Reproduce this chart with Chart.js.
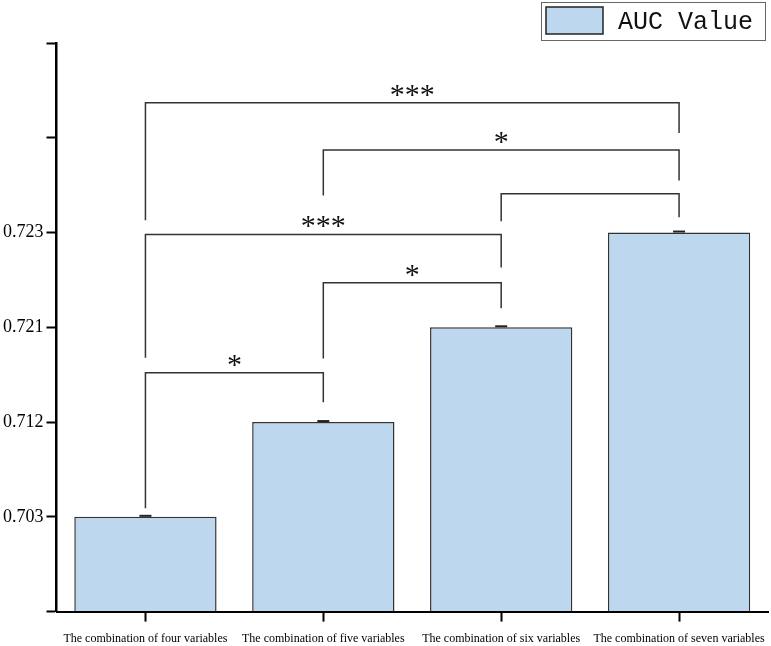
<!DOCTYPE html>
<html>
<head>
<meta charset="utf-8">
<script src="https://cdn.jsdelivr.net/npm/chart.js@4/dist/chart.umd.min.js"></script>
<style>
  html, body { margin: 0; padding: 0; background: #fff; }
  #wrap { width: 771px; height: 646px; }
</style>
</head>
<body>
<div id="wrap"><canvas id="chart" width="771" height="646"></canvas></div>
<script>
// Data
const categories = [
  "The combination of four variables",
  "The combination of five variables",
  "The combination of six variables",
  "The combination of seven variables",
]
const aucValues = [0.703, 0.712, 0.721, 0.723]
// The y axis is evenly spaced: each labelled tick is one of the AUC values
const yTickLabels = ["0.703", "0.712", "0.721", "0.723", "", ""]
const barLevels = aucValues.map((v) => yTickLabels.indexOf(v.toFixed(3)) + 1)

// Significance brackets: category indices, star label, and heights in axis units
const brackets = [
  { from: 0, to: 3, label: "***", top: 5.37, left: 4.13, right: 5.05 },
  { from: 1, to: 3, label: "*", top: 4.87, left: 4.39, right: 4.55 },
  { from: 2, to: 3, label: "", top: 4.41, left: 4.12, right: 4.16 },
  { from: 0, to: 2, label: "***", top: 3.98, left: 2.68, right: 3.63 },
  { from: 1, to: 2, label: "*", top: 3.47, left: 2.67, right: 3.2 },
  { from: 0, to: 1, label: "*", top: 2.52, left: 1.09, right: 2.21 },
]

const BAR_FILL = "#BDD7EE"
const BAR_EDGE = "#333"

const annotations = {
  id: "annotations",
  afterDatasetsDraw(chart) {
    const { ctx, scales } = chart
    const x = scales.x
    const y = scales.y
    ctx.save()

    // error bar caps (SD is negligible)
    chart.getDatasetMeta(0).data.forEach((bar) => {
      ctx.strokeStyle = "#222"
      ctx.lineWidth = 2
      ctx.beginPath()
      ctx.moveTo(bar.x - 6, bar.y - 1)
      ctx.lineTo(bar.x + 6, bar.y - 1)
      ctx.stroke()
    })

    // brackets
    ctx.strokeStyle = "#333"
    ctx.lineWidth = 1.5
    ctx.fillStyle = "#111"
    ctx.font = "30px 'Liberation Serif', serif"
    ctx.textAlign = "center"
    ctx.textBaseline = "alphabetic"
    brackets.forEach((b) => {
      const x1 = x.getPixelForValue(b.from)
      const x2 = x.getPixelForValue(b.to)
      const yt = y.getPixelForValue(b.top)
      ctx.beginPath()
      ctx.moveTo(x1, y.getPixelForValue(b.left))
      ctx.lineTo(x1, yt)
      ctx.lineTo(x2, yt)
      ctx.lineTo(x2, y.getPixelForValue(b.right))
      ctx.stroke()
      if (b.label) ctx.fillText(b.label, (x1 + x2) / 2, yt + 1)
    })

    // legend box in the top right corner
    const ds = chart.data.datasets[0]
    const right = chart.width - 6
    const bx = right - 224
    ctx.strokeStyle = "#666"
    ctx.lineWidth = 1
    ctx.strokeRect(bx + 0.5, 2.5, 224, 38)
    ctx.fillStyle = ds.backgroundColor
    ctx.fillRect(bx + 5, 7, 57, 27)
    ctx.strokeStyle = "#222"
    ctx.lineWidth = 1.5
    ctx.strokeRect(bx + 5, 7, 57, 27)
    ctx.fillStyle = "#111"
    ctx.font = "25px 'Liberation Mono', monospace"
    ctx.textAlign = "left"
    ctx.textBaseline = "middle"
    ctx.fillText(ds.label, bx + 77, 22)

    ctx.restore()
  },
}

new Chart(document.getElementById("chart"), {
  type: "bar",
  data: {
    labels: categories,
    datasets: [
      {
        label: "AUC Value",
        data: barLevels,
        backgroundColor: BAR_FILL,
        borderColor: BAR_EDGE,
        borderWidth: 1.5,
        barPercentage: 0.8,
        categoryPercentage: 1.0,
      },
    ],
  },
  options: {
    responsive: false,
    animation: false,
    layout: { padding: { top: 43, right: 3, left: 0, bottom: -10 } },
    plugins: {
      legend: { display: false },
      tooltip: {
        callbacks: { label: (c) => "AUC Value: " + aucValues[c.dataIndex] },
      },
    },
    scales: {
      x: {
        afterFit(scale) {
          scale.paddingLeft = 0
          scale.paddingRight = 0
        },
        grid: {
          display: true,
          drawOnChartArea: false,
          offset: false,
          tickLength: 10,
          tickColor: "#000",
          tickWidth: 2,
        },
        border: { color: "#000", width: 2 },
        ticks: {
          color: "#000",
          padding: 10,
          maxRotation: 0,
          autoSkip: false,
          font: { family: "'Liberation Serif', serif", size: 12 },
        },
      },
      y: {
        min: 0,
        max: 6,
        grid: {
          display: true,
          drawOnChartArea: false,
          tickLength: 10,
          tickColor: "#000",
          tickWidth: 2,
        },
        border: { color: "#000", width: 2.5 },
        ticks: {
          stepSize: 1,
          color: "#000",
          padding: 3,
          font: { family: "'Liberation Serif', serif", size: 18 },
          callback: (v) => (v >= 1 ? yTickLabels[v - 1] : ""),
        },
      },
    },
  },
  plugins: [annotations],
})
</script>
</body>
</html>
